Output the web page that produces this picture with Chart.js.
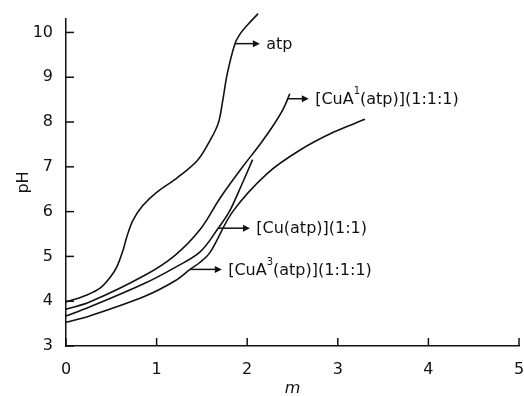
<!DOCTYPE html>
<html>
<head>
<meta charset="utf-8">
<script src="https://cdn.jsdelivr.net/npm/chart.js@4/dist/chart.umd.min.js"></script>
<style>
  html, body { margin: 0; padding: 0; background: #fff; }
  #wrap { width: 524px; height: 396px; }
</style>
</head>
<body>
<div id="wrap"><canvas id="c" width="524" height="396"></canvas></div>
<script>
// ---- data (m, pH) ----
const atpM  = [0, 0.23, 0.375, 0.49, 0.56, 0.63, 0.67, 0.74, 0.85, 1.0, 1.23, 1.45, 1.59, 1.68, 1.73, 1.78, 1.865, 1.93, 2.0, 2.12];
const atpPH = [3.98, 4.14, 4.29, 4.54, 4.76, 5.14, 5.43, 5.81, 6.14, 6.43, 6.76, 7.14, 7.59, 7.97, 8.48, 9.08, 9.75, 9.99, 10.16, 10.42];

const cuA1M  = [0, 0.26, 0.87, 1.2, 1.48, 1.7, 1.95, 2.14, 2.28, 2.40, 2.47];
const cuA1PH = [3.82, 3.98, 4.58, 5.02, 5.6, 6.3, 7.0, 7.5, 7.9, 8.3, 8.63];

const cuAtpM  = [0, 0.26, 0.87, 1.2, 1.48, 1.68, 1.81, 1.95, 2.06];
const cuAtpPH = [3.67, 3.87, 4.40, 4.75, 5.1, 5.63, 6.03, 6.65, 7.16];

const cuA3M  = [0, 0.26, 0.87, 1.2, 1.37, 1.48, 1.59, 1.84, 2.22, 2.58, 2.95, 3.30];
const cuA3PH = [3.53, 3.67, 4.11, 4.45, 4.71, 4.87, 5.09, 6.0, 6.85, 7.37, 7.77, 8.06];

const xTicks = [0, 1, 2, 3, 4, 5];
const yTicks = [3, 4, 5, 6, 7, 8, 9, 10];

const seriesNames = ['atp', '[CuA^1(atp)](1:1:1)', '[Cu(atp)](1:1)', '[CuA^3(atp)](1:1:1)'];

// arrow annotations: [fromM, toM, pH, labelM]
const arrowSpecs = [
  [1.865, 2.14, 9.75, 2.21],
  [2.45, 2.68, 8.52, 2.75],
  [1.68, 2.03, 5.63, 2.10],
  [1.37, 1.72, 4.71, 1.79]
];

function pts(ms, ps) { return ms.map((m, i) => ({ x: m, y: ps[i] })); }

const lineStyle = {
  showLine: true, borderColor: '#111', borderWidth: 1.6, pointRadius: 0,
  tension: 0.35, clip: false, fill: false
};

const FONT = '"DejaVu Sans", sans-serif';

const decorPlugin = {
  id: 'decor',
  afterDraw(chart) {
    const ctx = chart.ctx;
    const xs = chart.scales.x, ys = chart.scales.y;
    const ca = chart.chartArea;
    ctx.save();
    ctx.strokeStyle = '#111';
    ctx.fillStyle = '#111';
    ctx.lineWidth = 1.5;
    yTicks.forEach(v => {
      const py = ys.getPixelForValue(v);
      ctx.beginPath(); ctx.moveTo(ca.left, py); ctx.lineTo(ca.left + 8, py); ctx.stroke();
    });
    xTicks.forEach(v => {
      const px = xs.getPixelForValue(v);
      ctx.beginPath(); ctx.moveTo(px, ca.bottom); ctx.lineTo(px, ca.bottom - 8); ctx.stroke();
    });
    arrowSpecs.forEach((a, i) => {
      const x0 = xs.getPixelForValue(a[0]);
      const x1 = xs.getPixelForValue(a[1]);
      const y = ys.getPixelForValue(a[2]);
      ctx.lineWidth = 1.5;
      ctx.beginPath(); ctx.moveTo(x0, y); ctx.lineTo(x1 - 5, y); ctx.stroke();
      ctx.beginPath(); ctx.moveTo(x1, y); ctx.lineTo(x1 - 7, y - 3.5); ctx.lineTo(x1 - 7, y + 3.5); ctx.closePath(); ctx.fill();
      let lx = xs.getPixelForValue(a[3]);
      const parts = seriesNames[i].split(/\^(\d)/);
      ctx.textBaseline = 'middle';
      ctx.textAlign = 'left';
      parts.forEach((p, k) => {
        if (k % 2 === 1) {
          ctx.font = '10px ' + FONT;
          ctx.fillText(p, lx, y - 7);
          lx += ctx.measureText(p).width;
        } else if (p) {
          ctx.font = '16px ' + FONT;
          ctx.fillText(p, lx, y + 1);
          lx += ctx.measureText(p).width;
        }
      });
    });
    ctx.restore();
  }
};

new Chart(document.getElementById('c'), {
  type: 'scatter',
  data: {
    datasets: [
      Object.assign({ label: seriesNames[0], data: pts(atpM, atpPH) }, lineStyle),
      Object.assign({ label: seriesNames[1], data: pts(cuA1M, cuA1PH) }, lineStyle),
      Object.assign({ label: seriesNames[2], data: pts(cuAtpM, cuAtpPH) }, lineStyle),
      Object.assign({ label: seriesNames[3], data: pts(cuA3M, cuA3PH) }, lineStyle)
    ]
  },
  options: {
    responsive: false,
    animation: false,
    devicePixelRatio: 1,
    layout: { padding: { left: 14, right: 5, top: 19, bottom: 0 } },
    plugins: { legend: { display: false }, tooltip: { enabled: false } },
    scales: {
      x: {
        type: 'linear', min: 0, max: 5,
        afterBuildTicks: s => { s.ticks = xTicks.map(v => ({ value: v })); },
        afterFit: s => { s.height = 50; s.paddingLeft = 0; s.paddingRight = 0; },
        grid: { display: true, drawOnChartArea: false, drawTicks: false },
        border: { display: true, color: '#111', width: 1.5 },
        ticks: { color: '#111', padding: 14, font: { family: FONT, size: 16 } },
        title: { display: true, text: 'm', color: '#111', padding: { top: 0, bottom: -2 },
                 font: { family: FONT, size: 16, style: 'italic' } }
      },
      y: {
        type: 'linear', min: 3, max: 10.3,
        afterBuildTicks: s => { s.ticks = yTicks.map(v => ({ value: v })); },
        afterFit: s => { s.width = 52; s.paddingTop = 0; s.paddingBottom = 0; },
        grid: { display: true, drawOnChartArea: false, drawTicks: false },
        border: { display: true, color: '#111', width: 1.5 },
        ticks: { color: '#111', padding: 13, font: { family: FONT, size: 16 } },
        title: { display: true, text: 'pH', color: '#111', padding: { top: 0, bottom: 0 },
                 font: { family: FONT, size: 16 } }
      }
    }
  },
  plugins: [decorPlugin]
});
</script>
</body>
</html>
